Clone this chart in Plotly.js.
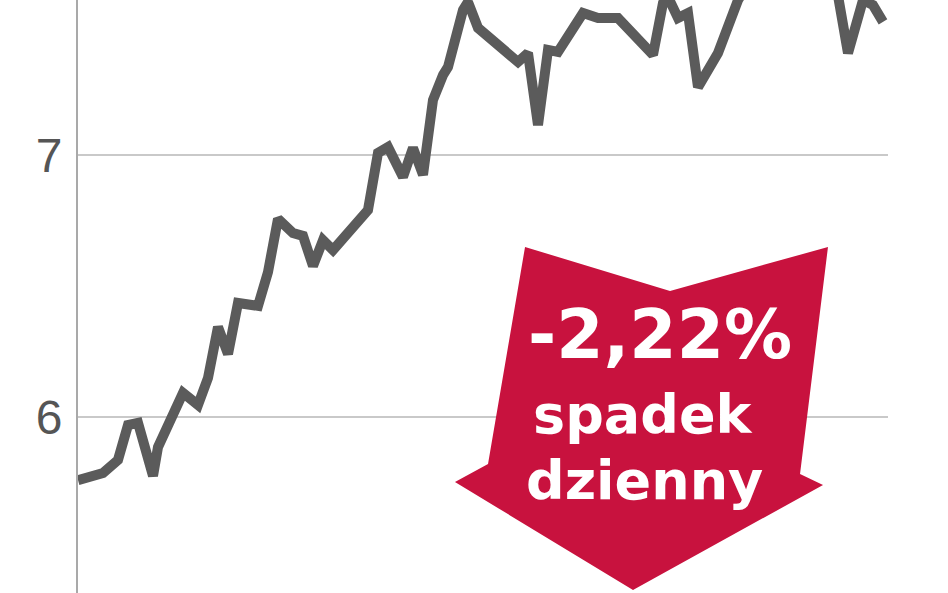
<!DOCTYPE html>
<html>
<head>
<meta charset="utf-8">
<script src="https://cdn.plot.ly/plotly-3.0.1.min.js"></script>
<style>html,body{margin:0;padding:0;background:#fff;}#chart{width:948px;height:593px;}</style>
</head>
<body>
<div id="chart"></div>
<script>
// Session index (trading day) and closing price
const sessions = [0,5,8,9,10,12,15,16,18,21,24,26,28,30,32,36,38,40,43,45,47,49,51,54,58,60,62,65,67,69,71,73,74,77,78,80,82,88,90,92,94,96,101,104,108,115,117,118,120,122,124,128,132,133,137,141,145,149,152,154,157,159,161];
const prices = [5.761,5.788,5.838,5.895,5.971,5.979,5.777,5.887,5.971,6.094,6.048,6.151,6.345,6.242,6.437,6.426,6.555,6.758,6.704,6.693,6.578,6.677,6.639,6.704,6.792,7.010,7.032,6.918,7.029,6.926,7.212,7.307,7.338,7.555,7.586,7.487,7.452,7.357,7.391,7.116,7.403,7.395,7.544,7.525,7.525,7.384,7.582,7.605,7.525,7.544,7.261,7.391,7.593,7.630,7.750,7.850,7.800,7.720,7.610,7.391,7.593,7.574,7.510];
const yTicks = [6, 7];
const yTickLabels = ['6', '7'];
const badgeLines = ['-2,22%', 'spadek', 'dzienny'];

const L = 78, R = 888, H = 593;
const px = x => (x - L) / (R - L);
const py = y => 1 - y / H;
const arrowPts = [[525,247],[670,291],[828,247],[800,474],[823,485],[633,590],[455,482],[488,464]];
const arrowPath = 'M' + arrowPts.map(p => px(p[0]).toFixed(4) + ',' + py(p[1]).toFixed(4)).join(' L') + ' Z';

const trace = {
  x: sessions, y: prices, type: 'scatter', mode: 'lines',
  line: {color: '#5b5b5b', width: 10, shape: 'linear'},
  hoverinfo: 'skip', cliponaxis: true
};

const layout = {
  width: 948, height: 593,
  margin: {l: L, r: 948 - R, t: 0, b: 0, pad: 0},
  paper_bgcolor: '#ffffff', plot_bgcolor: '#ffffff',
  showlegend: false,
  xaxis: {range: [0, 162], showgrid: false, zeroline: false, showticklabels: false, showline: false, ticks: ''},
  yaxis: {
    range: [5.330, 7.5935], tickvals: yTicks, ticktext: yTickLabels,
    showgrid: true, gridcolor: '#c9c9c9', gridwidth: 2,
    zeroline: false, showline: true, linecolor: '#a9a9a9', linewidth: 2,
    ticks: '', ticklabelstandoff: 4,
    tickfont: {family: 'Liberation Sans, Arial, sans-serif', size: 48, color: '#555555'}
  },
  shapes: [{type: 'path', xref: 'paper', yref: 'paper', path: arrowPath, fillcolor: '#c8123e', line: {width: 0}, layer: 'above'}],
  annotations: [
    {text: '<b>' + badgeLines[0] + '</b>', xref: 'paper', yref: 'paper', x: px(660), y: py(334), xanchor: 'center', yanchor: 'middle', showarrow: false, font: {family: 'DejaVu Sans, sans-serif', size: 68, color: '#ffffff'}},
    {text: '<b>' + badgeLines[1] + '</b>', xref: 'paper', yref: 'paper', x: px(643), y: py(414), xanchor: 'center', yanchor: 'middle', showarrow: false, font: {family: 'DejaVu Sans, sans-serif', size: 54, color: '#ffffff'}},
    {text: '<b>' + badgeLines[2] + '</b>', xref: 'paper', yref: 'paper', x: px(644), y: py(480), xanchor: 'center', yanchor: 'middle', showarrow: false, font: {family: 'DejaVu Sans, sans-serif', size: 54, color: '#ffffff'}}
  ]
};

Plotly.newPlot('chart', [trace], layout, {staticPlot: true, displayModeBar: false});
</script>
</body>
</html>
